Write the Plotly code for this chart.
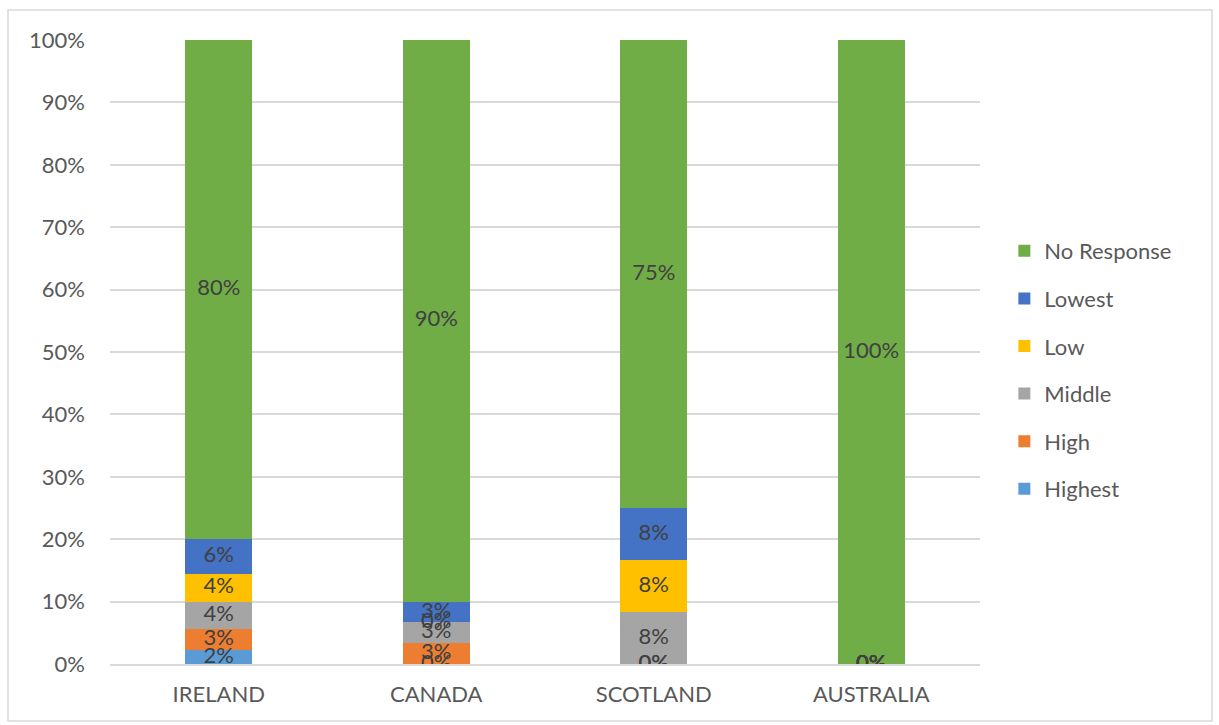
import plotly.graph_objects as go

countries = ["IRELAND", "CANADA", "SCOTLAND", "AUSTRALIA"]
series_names = ["Highest", "High", "Middle", "Low", "Lowest", "No Response"]
highest = [2.22, 0.0, 0.0, 0.0]
high = [3.33, 3.33, 0.0, 0.0]
middle = [4.44, 3.33, 8.33, 0.0]
low = [4.44, 0.0, 8.33, 0.0]
lowest = [5.56, 3.34, 8.34, 0.0]
no_response = [80.0, 90.0, 75.0, 100.0]
colors = ["#5B9BD5", "#ED7D31", "#A5A5A5", "#FFC000", "#4472C4", "#70AD47"]

all_series = [highest, high, middle, low, lowest, no_response]
font_family = "Lato, Open Sans, sans-serif"

fig = go.Figure()
n = len(series_names)
for i, (name, vals, col) in enumerate(zip(series_names, all_series, colors)):
    fig.add_trace(go.Bar(
        x=countries, y=vals, name=name, marker=dict(color=col, line=dict(width=0)),
        legendgroup=name, legendrank=n - i, hoverinfo="skip",
    ))

# data labels at segment centres
lx, ly, lt = [], [], []
for ci, c in enumerate(countries):
    base = 0.0
    for vals in all_series:
        v = vals[ci]
        lx.append(c)
        ly.append(base + v / 2)
        lt.append(f"{round(v):.0f}%")
        base += v
fig.add_trace(go.Scatter(
    x=lx, y=ly, text=lt, mode="text", showlegend=False, hoverinfo="skip",
    textfont=dict(size=22, color="#404040", family=font_family),
))

fig.update_layout(
    barmode="stack",
    bargap=0.69,
    width=1219, height=725,
    margin=dict(l=110, r=239, t=40, b=61),
    paper_bgcolor="white", plot_bgcolor="white",
    font=dict(family=font_family, size=22, color="#595959"),
    legend=dict(
        x=1.028, y=(664 - 370) / 624, xanchor="left", yanchor="middle",
        traceorder="grouped", tracegroupgap=16,
        font=dict(size=22, color="#595959"),
        itemwidth=30,
    ),
    xaxis=dict(
        showline=True, linecolor="#d9d9d9", linewidth=1.5,
        tickfont=dict(size=22, color="#595959"), ticks="",
        ticklabelstandoff=10,
    ),
    yaxis=dict(
        range=[0, 100], tickvals=list(range(0, 101, 10)),
        ticktext=[f"{v}%" for v in range(0, 101, 10)],
        showgrid=True, gridcolor="#d9d9d9", gridwidth=1.5,
        zeroline=False, showline=False, ticks="",
        tickfont=dict(size=22, color="#595959"),
        ticklabelstandoff=24,
    ),
    shapes=[dict(
        type="rect", xref="paper", yref="paper",
        x0=(8 - 110) / 870, x1=(1212 - 110) / 870,
        y0=(664 - 721) / 624, y1=(664 - 10) / 624,
        line=dict(color="#d9d9d9", width=1.5), fillcolor="rgba(0,0,0,0)",
    )],
)

fig.write_html("out.html")
